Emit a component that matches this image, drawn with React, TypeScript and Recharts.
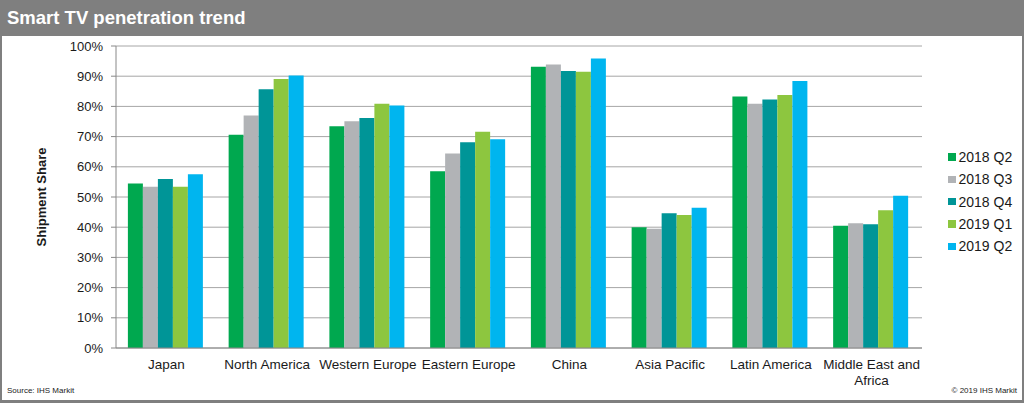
import React from 'react';
import { BarChart, Bar, XAxis, YAxis, CartesianGrid } from 'recharts';

const categories = ['Japan', 'North America', 'Western Europe', 'Eastern Europe', 'China', 'Asia Pacific', 'Latin America', 'Middle East and Africa'];
const q2_2018 = [54.5, 70.6, 73.4, 58.5, 93.1, 40.0, 83.3, 40.5];
const q3_2018 = [53.4, 77.0, 75.1, 64.4, 93.9, 39.5, 80.9, 41.3];
const q4_2018 = [56.0, 85.7, 76.2, 68.1, 91.7, 44.6, 82.3, 41.0];
const q1_2019 = [53.4, 89.1, 80.9, 71.6, 91.5, 44.0, 83.8, 45.6];
const q2_2019 = [57.5, 90.2, 80.3, 69.1, 95.9, 46.4, 88.4, 50.4];
const yTicks = [0, 10, 20, 30, 40, 50, 60, 70, 80, 90, 100];
const edgeTicks = [0, 1, 2, 3, 4, 5, 6, 7, 8];

const series = [
  { key: 's1', name: '2018 Q2', color: '#00A84F', values: q2_2018 },
  { key: 's2', name: '2018 Q3', color: '#B1B3B6', values: q3_2018 },
  { key: 's3', name: '2018 Q4', color: '#009597', values: q4_2018 },
  { key: 's4', name: '2019 Q1', color: '#8DC63F', values: q1_2019 },
  { key: 's5', name: '2019 Q2', color: '#00B5EF', values: q2_2019 },
];

const data = categories.map((name, i) => {
  const row: Record<string, any> = { name };
  series.forEach((s) => { row[s.key] = s.values[i]; });
  return row;
});

const FONT = 'Arial, "Liberation Sans", Helvetica, sans-serif';
const TICK_FS = 13.5;

let ctx: CanvasRenderingContext2D | null = null;
function measure(s: string): number {
  if (!ctx) {
    const c = document.createElement('canvas');
    ctx = c.getContext('2d');
  }
  if (!ctx) return s.length * 7;
  ctx.font = `${TICK_FS}px Arial, "Liberation Sans", sans-serif`;
  return ctx.measureText(s).width;
}

function wrap(label: string, maxW: number): string[] {
  const words = label.split(' ');
  const lines: string[] = [];
  let cur = '';
  words.forEach((w) => {
    const t = cur ? cur + ' ' + w : w;
    if (cur && measure(t) > maxW) {
      lines.push(cur);
      cur = w;
    } else {
      cur = t;
    }
  });
  if (cur) lines.push(cur);
  return lines;
}

const CatTick = (props: any) => {
  const { x, y, payload } = props;
  const lines = wrap(String(payload.value), 103);
  return (
    <text x={x} y={y} textAnchor="middle" style={{ fontSize: TICK_FS, fontFamily: FONT }} fill="#1a1a1a">
      {lines.map((l, i) => (
        <tspan key={i} x={x} dy={i === 0 ? '0.71em' : 16}>{l}</tspan>
      ))}
    </text>
  );
};

const YTitle = (props: any) => {
  const vb = props.viewBox || { x: 0, y: 46, height: 302 };
  const cx = vb.x + 41;
  const cy = vb.y + vb.height / 2;
  return (
    <text x={cx} y={cy} transform={`rotate(-90 ${cx} ${cy})`} textAnchor="middle" dominantBaseline="central"
      style={{ fontSize: 13, fontWeight: 'bold', fontFamily: FONT }} fill="#1a1a1a">
      Shipment Share
    </text>
  );
};

export default function App() {
  return (
    <div style={{ position: 'absolute', left: 0, top: 0, width: 1024, height: 403, background: '#fff', fontFamily: FONT, overflow: 'hidden' }}>
      <div style={{ position: 'absolute', left: 0, top: 0, width: 1024, height: 36, background: '#7F7F7F' }} />
      <div style={{ position: 'absolute', left: 7, top: 7, color: '#fff', fontWeight: 'bold', fontSize: 18.5, lineHeight: '22px', whiteSpace: 'nowrap' }}>
        Smart TV penetration trend
      </div>
      <div style={{ position: 'absolute', left: 0, top: 36, width: 2, height: 367, background: '#7F7F7F' }} />
      <div style={{ position: 'absolute', left: 1022, top: 36, width: 2, height: 367, background: '#7F7F7F' }} />
      <div style={{ position: 'absolute', left: 0, top: 400, width: 1024, height: 3, background: '#7F7F7F' }} />
      <div style={{ position: 'absolute', left: 0, top: 0 }}>
        <BarChart width={1024} height={403} data={data} margin={{ top: 46, right: 102, bottom: 0, left: 0 }}
          barCategoryGap="11.8%" barGap={0}>
          <CartesianGrid vertical={false} stroke="#A6A6A6" strokeWidth={1} />
          <XAxis xAxisId="edges" type="number" domain={[0, 8]} ticks={edgeTicks} allowDataOverflow
            height={0} axisLine={false} tick={false} tickLine={{ stroke: '#888' }} tickSize={4} />
          <XAxis xAxisId="cat" dataKey="name" type="category" height={55} axisLine={{ stroke: '#888' }}
            tickLine={false} tickMargin={11} tickSize={0} interval={0} tick={<CatTick />} />
          <YAxis width={116} domain={[0, 100]} ticks={yTicks} tickFormatter={(v: number) => `${v}%`}
            axisLine={{ stroke: '#888' }} tickLine={{ stroke: '#888' }} tickSize={5} tickMargin={8}
            tick={{ fontSize: 13, fill: '#1a1a1a', fontFamily: FONT }} label={<YTitle />} />
          {series.map((s) => (
            <Bar key={s.key} xAxisId="cat" dataKey={s.key} name={s.name} fill={s.color} isAnimationActive={false} />
          ))}
        </BarChart>
      </div>
      <div style={{ position: 'absolute', left: 948, top: 146 }}>
        {series.map((s) => (
          <div key={s.key} style={{ display: 'flex', alignItems: 'center', height: 22.3 }}>
            <div style={{ width: 7.5, height: 7.5, background: s.color, marginRight: 3 }} />
            <span style={{ fontSize: 14, color: '#1a1a1a', whiteSpace: 'nowrap' }}>{s.name}</span>
          </div>
        ))}
      </div>
      <div style={{ position: 'absolute', left: 7, top: 386, fontSize: 8, color: '#222', whiteSpace: 'nowrap' }}>Source: IHS Markit</div>
      <div style={{ position: 'absolute', right: 7, top: 386, fontSize: 8, color: '#222', whiteSpace: 'nowrap' }}>© 2019 IHS Markit</div>
    </div>
  );
}
